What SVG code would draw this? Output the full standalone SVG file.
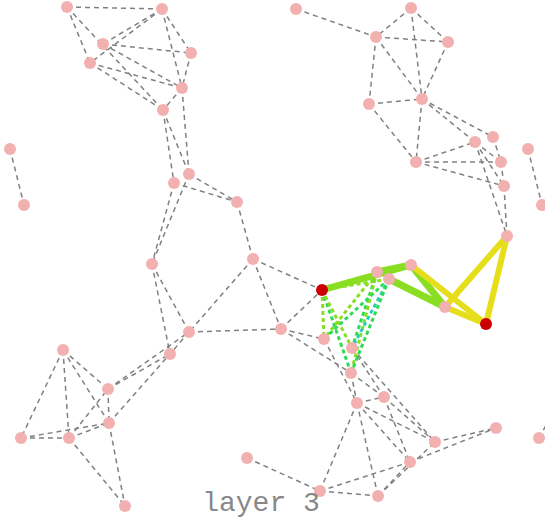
<svg xmlns="http://www.w3.org/2000/svg" width="545" height="518" viewBox="0 0 545 518">
<style>
.e{stroke:#808080;stroke-width:1.5;stroke-dasharray:5,4;fill:none}
.t{stroke-width:6;stroke-linecap:butt;fill:none}
.g{stroke:#8ade22;stroke-width:7}
.y{stroke:#e6de1a}
.d{stroke-width:3;stroke-dasharray:4,3;fill:none}
.dl{stroke:#8ade22}
.dg{stroke:#2edc55}
.dc{stroke:#2acfb8}
.n{fill:#f2b0b0}
.r{fill:#cc0000}
text{font-family:"Liberation Mono","DejaVu Sans Mono",monospace;fill:#888888}
</style>
<rect width="545" height="518" fill="#ffffff"/>
<g id="connectors">
<g id="plain">
<line class="e" x1="67" y1="7" x2="162" y2="9"/>
<line class="e" x1="67" y1="7" x2="90" y2="63"/>
<line class="e" x1="67" y1="7" x2="163" y2="110"/>
<line class="e" x1="162" y1="9" x2="103" y2="44"/>
<line class="e" x1="162" y1="9" x2="90" y2="63"/>
<line class="e" x1="162" y1="9" x2="191" y2="53"/>
<line class="e" x1="162" y1="9" x2="182" y2="88"/>
<line class="e" x1="103" y1="44" x2="191" y2="53"/>
<line class="e" x1="103" y1="44" x2="182" y2="88"/>
<line class="e" x1="90" y1="63" x2="182" y2="88"/>
<line class="e" x1="90" y1="63" x2="163" y2="110"/>
<line class="e" x1="191" y1="53" x2="182" y2="88"/>
<line class="e" x1="182" y1="88" x2="163" y2="110"/>
<line class="e" x1="182" y1="88" x2="189" y2="174"/>
<line class="e" x1="163" y1="110" x2="189" y2="174"/>
<line class="e" x1="163" y1="110" x2="174" y2="183"/>
<line class="e" x1="189" y1="174" x2="237" y2="202"/>
<line class="e" x1="174" y1="183" x2="237" y2="202"/>
<line class="e" x1="189" y1="174" x2="152" y2="264"/>
<line class="e" x1="174" y1="183" x2="152" y2="264"/>
<line class="e" x1="237" y1="202" x2="253" y2="259"/>
<line class="e" x1="10" y1="149" x2="24" y2="205"/>
<line class="e" x1="296" y1="9" x2="376" y2="37"/>
<line class="e" x1="411" y1="8" x2="376" y2="37"/>
<line class="e" x1="411" y1="8" x2="448" y2="42"/>
<line class="e" x1="376" y1="37" x2="448" y2="42"/>
<line class="e" x1="411" y1="8" x2="422" y2="99"/>
<line class="e" x1="376" y1="37" x2="369" y2="104"/>
<line class="e" x1="376" y1="37" x2="422" y2="99"/>
<line class="e" x1="448" y1="42" x2="422" y2="99"/>
<line class="e" x1="369" y1="104" x2="422" y2="99"/>
<line class="e" x1="369" y1="104" x2="416" y2="162"/>
<line class="e" x1="422" y1="99" x2="416" y2="162"/>
<line class="e" x1="422" y1="99" x2="475" y2="142"/>
<line class="e" x1="422" y1="99" x2="493" y2="137"/>
<line class="e" x1="475" y1="142" x2="501" y2="162"/>
<line class="e" x1="416" y1="162" x2="475" y2="142"/>
<line class="e" x1="416" y1="162" x2="501" y2="162"/>
<line class="e" x1="416" y1="162" x2="504" y2="186"/>
<line class="e" x1="475" y1="142" x2="504" y2="186"/>
<line class="e" x1="475" y1="142" x2="507" y2="236"/>
<line class="e" x1="493" y1="137" x2="501" y2="162"/>
<line class="e" x1="501" y1="162" x2="504" y2="186"/>
<line class="e" x1="504" y1="186" x2="507" y2="236"/>
<line class="e" x1="528" y1="149" x2="542" y2="205"/>
<line class="e" x1="152" y1="264" x2="189" y2="332"/>
<line class="e" x1="152" y1="264" x2="170" y2="354"/>
<line class="e" x1="253" y1="259" x2="189" y2="332"/>
<line class="e" x1="253" y1="259" x2="281" y2="329"/>
<line class="e" x1="253" y1="259" x2="322" y2="290"/>
<line class="e" x1="189" y1="332" x2="281" y2="329"/>
<line class="e" x1="189" y1="332" x2="170" y2="354"/>
<line class="e" x1="108" y1="389" x2="189" y2="332"/>
<line class="e" x1="108" y1="389" x2="170" y2="354"/>
<line class="e" x1="109" y1="423" x2="170" y2="354"/>
<line class="e" x1="63" y1="350" x2="21" y2="438"/>
<line class="e" x1="63" y1="350" x2="69" y2="438"/>
<line class="e" x1="63" y1="350" x2="108" y2="389"/>
<line class="e" x1="63" y1="350" x2="109" y2="423"/>
<line class="e" x1="21" y1="438" x2="69" y2="438"/>
<line class="e" x1="21" y1="438" x2="109" y2="423"/>
<line class="e" x1="69" y1="438" x2="109" y2="423"/>
<line class="e" x1="69" y1="438" x2="108" y2="389"/>
<line class="e" x1="108" y1="389" x2="109" y2="423"/>
<line class="e" x1="69" y1="438" x2="125" y2="506"/>
<line class="e" x1="109" y1="423" x2="125" y2="506"/>
<line class="e" x1="281" y1="329" x2="322" y2="290"/>
<line class="e" x1="281" y1="329" x2="324" y2="339"/>
<line class="e" x1="281" y1="329" x2="351" y2="373"/>
<line class="e" x1="324" y1="339" x2="357" y2="403"/>
<line class="e" x1="352" y1="348" x2="384" y2="397"/>
<line class="e" x1="352" y1="348" x2="435" y2="442"/>
<line class="e" x1="351" y1="373" x2="357" y2="403"/>
<line class="e" x1="351" y1="373" x2="384" y2="397"/>
<line class="e" x1="357" y1="403" x2="384" y2="397"/>
<line class="e" x1="357" y1="403" x2="435" y2="442"/>
<line class="e" x1="357" y1="403" x2="410" y2="462"/>
<line class="e" x1="384" y1="397" x2="410" y2="462"/>
<line class="e" x1="384" y1="397" x2="435" y2="442"/>
<line class="e" x1="357" y1="403" x2="320" y2="491"/>
<line class="e" x1="357" y1="403" x2="378" y2="496"/>
<line class="e" x1="320" y1="491" x2="410" y2="462"/>
<line class="e" x1="320" y1="491" x2="378" y2="496"/>
<line class="e" x1="378" y1="496" x2="410" y2="462"/>
<line class="e" x1="378" y1="496" x2="435" y2="442"/>
<line class="e" x1="435" y1="442" x2="496" y2="428"/>
<line class="e" x1="410" y1="462" x2="496" y2="428"/>
<line class="e" x1="247" y1="458" x2="320" y2="491"/>
<line class="e" x1="539" y1="438" x2="550" y2="418"/>
</g>
<g id="thick">
<line class="t g" x1="322" y1="290" x2="411" y2="265"/>
<line class="t g" x1="377" y1="272" x2="411" y2="265"/>
<line class="t g" x1="389" y1="279" x2="445" y2="307"/>
<line class="t g" x1="411" y1="265" x2="445" y2="307"/>
<line class="t y" x1="411" y1="265" x2="486" y2="324"/>
<line class="t y" x1="445" y1="307" x2="486" y2="324"/>
<line class="t y" x1="445" y1="307" x2="507" y2="236"/>
<line class="t y" x1="507" y1="236" x2="486" y2="324"/>
</g>
<g id="dotted">
<line class="d dl" x1="322" y1="290" x2="389" y2="279"/>
<line class="d dl" x1="322" y1="290" x2="324" y2="339"/>
<line class="d dg" x1="322" y1="290" x2="351" y2="373"/>
<line class="d dl" x1="322" y1="290" x2="352" y2="348"/>
<line class="d dl" x1="377" y1="272" x2="324" y2="339"/>
<line class="d dg" x1="377" y1="272" x2="352" y2="348"/>
<line class="d dl" x1="377" y1="272" x2="351" y2="373"/>
<line class="d dg" x1="389" y1="279" x2="324" y2="339"/>
<line class="d dc" x1="389" y1="279" x2="352" y2="348"/>
<line class="d dg" x1="389" y1="279" x2="351" y2="373"/>
</g>
</g>
<g id="nodes">
<circle id="n1" class="n" cx="67" cy="7" r="6"/>
<circle id="n2" class="n" cx="162" cy="9" r="6"/>
<circle id="n3" class="n" cx="103" cy="44" r="6"/>
<circle id="n4" class="n" cx="191" cy="53" r="6"/>
<circle id="n5" class="n" cx="90" cy="63" r="6"/>
<circle id="n6" class="n" cx="182" cy="88" r="6"/>
<circle id="n7" class="n" cx="163" cy="110" r="6"/>
<circle id="n8" class="n" cx="10" cy="149" r="6"/>
<circle id="n9" class="n" cx="24" cy="205" r="6"/>
<circle id="n10" class="n" cx="189" cy="174" r="6"/>
<circle id="n11" class="n" cx="174" cy="183" r="6"/>
<circle id="n12" class="n" cx="237" cy="202" r="6"/>
<circle id="n13" class="n" cx="296" cy="9" r="6"/>
<circle id="n14" class="n" cx="411" cy="8" r="6"/>
<circle id="n15" class="n" cx="376" cy="37" r="6"/>
<circle id="n16" class="n" cx="448" cy="42" r="6"/>
<circle id="n17" class="n" cx="369" cy="104" r="6"/>
<circle id="n18" class="n" cx="422" cy="99" r="6"/>
<circle id="n19" class="n" cx="416" cy="162" r="6"/>
<circle id="n20" class="n" cx="475" cy="142" r="6"/>
<circle id="n21" class="n" cx="493" cy="137" r="6"/>
<circle id="n22" class="n" cx="501" cy="162" r="6"/>
<circle id="n23" class="n" cx="504" cy="186" r="6"/>
<circle id="n24" class="n" cx="528" cy="149" r="6"/>
<circle id="n25" class="n" cx="542" cy="205" r="6"/>
<circle id="n26" class="r" cx="322" cy="290" r="6"/>
<circle id="n27" class="n" cx="377" cy="272" r="6"/>
<circle id="n28" class="n" cx="389" cy="279" r="6"/>
<circle id="n29" class="n" cx="411" cy="265" r="6"/>
<circle id="n30" class="n" cx="445" cy="307" r="6"/>
<circle id="n31" class="r" cx="486" cy="324" r="6"/>
<circle id="n32" class="n" cx="507" cy="236" r="6"/>
<circle id="n33" class="n" cx="281" cy="329" r="6"/>
<circle id="n34" class="n" cx="324" cy="339" r="6"/>
<circle id="n35" class="n" cx="352" cy="348" r="6"/>
<circle id="n36" class="n" cx="152" cy="264" r="6"/>
<circle id="n37" class="n" cx="253" cy="259" r="6"/>
<circle id="n38" class="n" cx="189" cy="332" r="6"/>
<circle id="n39" class="n" cx="170" cy="354" r="6"/>
<circle id="n40" class="n" cx="63" cy="350" r="6"/>
<circle id="n41" class="n" cx="108" cy="389" r="6"/>
<circle id="n42" class="n" cx="109" cy="423" r="6"/>
<circle id="n43" class="n" cx="21" cy="438" r="6"/>
<circle id="n44" class="n" cx="69" cy="438" r="6"/>
<circle id="n45" class="n" cx="125" cy="506" r="6"/>
<circle id="n46" class="n" cx="247" cy="458" r="6"/>
<circle id="n47" class="n" cx="351" cy="373" r="6"/>
<circle id="n48" class="n" cx="357" cy="403" r="6"/>
<circle id="n49" class="n" cx="384" cy="397" r="6"/>
<circle id="n50" class="n" cx="435" cy="442" r="6"/>
<circle id="n51" class="n" cx="410" cy="462" r="6"/>
<circle id="n52" class="n" cx="496" cy="428" r="6"/>
<circle id="n53" class="n" cx="539" cy="438" r="6"/>
<circle id="n54" class="n" cx="320" cy="491" r="6"/>
<circle id="n55" class="n" cx="378" cy="496" r="6"/>
</g>
<text x="261" y="511" font-size="28" text-anchor="middle">layer 3</text>
</svg>
